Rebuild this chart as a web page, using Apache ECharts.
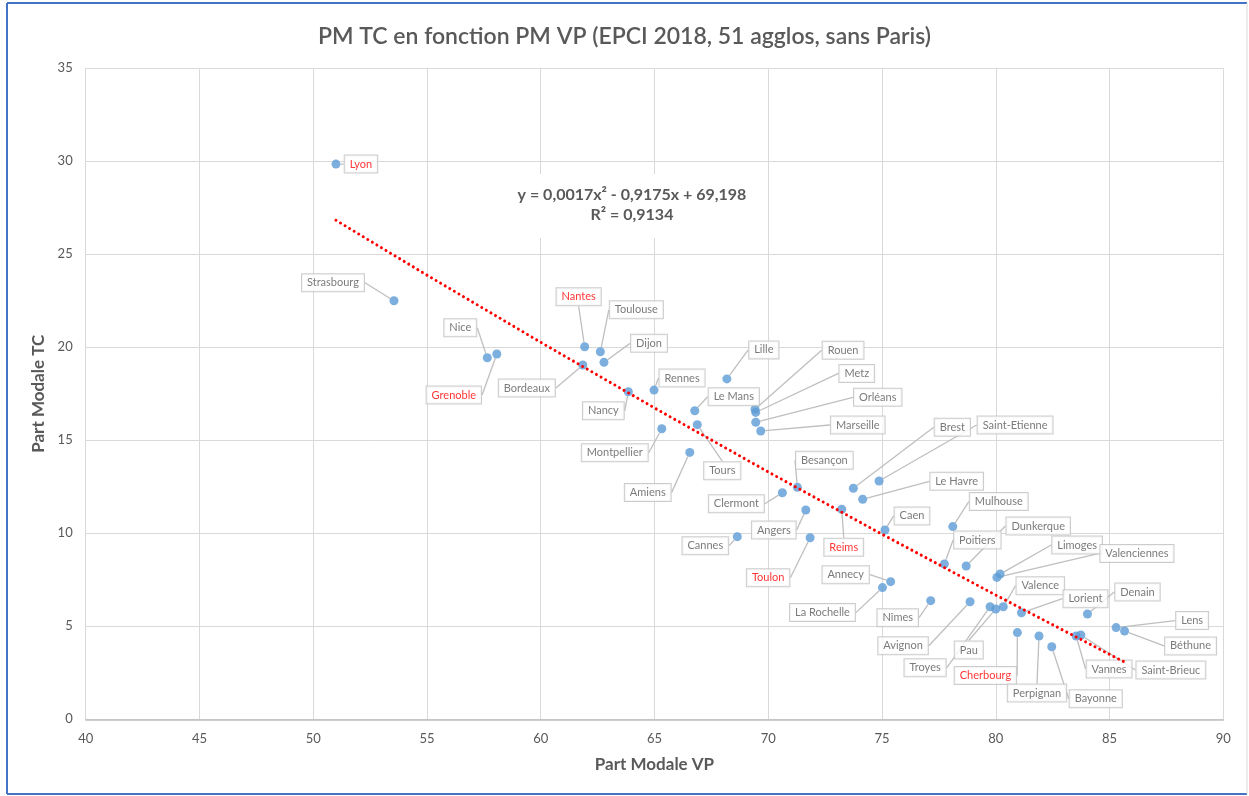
<!DOCTYPE html>
<html>
<head>
<meta charset="utf-8">
<title>PM TC en fonction PM VP</title>
<script src="https://cdn.jsdelivr.net/npm/echarts@6/dist/echarts.min.js"></script>
<style>
  html, body { margin: 0; padding: 0; background: #fff; }
  #chart { width: 1249px; height: 796px; }
</style>
</head>
<body>
<div id="chart"></div>
<script>
// agglos (EPCI 2018) : part modale VP (x) et TC (y)
const cities = [
  'Lyon', 'Strasbourg', 'Nice', 'Grenoble', 'Nantes', 'Toulouse', 'Dijon', 'Bordeaux', 'Nancy', 'Rennes',
  'Lille', 'Le Mans', 'Tours', 'Montpellier', 'Amiens', 'Rouen', 'Metz', 'Orléans', 'Marseille',
  'Besançon', 'Clermont', 'Brest', 'Saint-Etienne', 'Le Havre', 'Reims', 'Caen', 'Mulhouse', 'Poitiers', 'Dunkerque',
  'Limoges', 'Valenciennes', 'Angers', 'Cannes', 'Toulon', 'Annecy', 'La Rochelle', 'Nîmes', 'Avignon', 'Troyes',
  'Pau', 'Valence', 'Lorient', 'Denain', 'Lens', 'Béthune', 'Vannes', 'Saint-Brieuc', 'Cherbourg', 'Perpignan',
  'Bayonne'
]
const vpShare = [
  51.0, 53.55, 57.65, 58.07, 61.93, 62.62, 62.78, 61.85, 63.85, 64.98,
  68.18, 66.77, 66.88, 65.32, 66.55, 69.42, 69.45, 69.45, 69.67,
  71.28, 70.62, 73.74, 74.87, 74.15, 73.23, 75.13, 78.11, 77.74, 78.70,
  80.19, 80.05, 71.65, 68.64, 71.84, 75.38, 75.02, 77.14, 78.87, 79.75,
  80.0, 80.33, 81.13, 84.03, 85.29, 85.66, 83.53, 83.74, 80.95, 81.9,
  82.46
]
const tcShare = [
  29.85, 22.5, 19.44, 19.64, 20.03, 19.76, 19.19, 19.05, 17.61, 17.70,
  18.30, 16.59, 15.84, 15.62, 14.35, 16.67, 16.50, 15.97, 15.50,
  12.47, 12.18, 12.42, 12.81, 11.83, 11.29, 10.18, 10.36, 8.35, 8.24,
  7.81, 7.63, 11.25, 9.82, 9.76, 7.40, 7.08, 6.38, 6.32, 6.05,
  5.93, 6.05, 5.73, 5.66, 4.93, 4.75, 4.48, 4.53, 4.66, 4.48,
  3.90
]
const redCities = ['Lyon', 'Nantes', 'Grenoble', 'Reims', 'Toulon', 'Cherbourg']

// courbe de tendance polynomiale
const trendX = [51, 55, 60, 65, 70, 75, 80, 85, 85.66]
const trendY = [26.83, 23.88, 20.27, 16.74, 13.30, 9.95, 6.68, 3.49, 3.08]

const xTicks = { min: 40, max: 90, step: 5 }
const yTicks = { min: 0, max: 35, step: 5 }

// décalage des étiquettes (px) par rapport au point
const labelOffsets = [
  [25, 0], [-61, -18], [-27, -30], [-43, 41], [-6, -50], [36, -42], [45, -19], [-56, 23], [-25, 19], [28, -12],
  [37, -29], [39, -14], [25, 46], [-47, 24], [-42, 40], [88, -59], [101, -39], [122, -25], [97, -6],
  [27, -27], [-46, 11], [99, -61], [136, -56], [94, -18], [2, 38], [27, -14], [46, -25], [33, -24], [72, -40],
  [77, -29], [140, -24], [-32, 20], [-32, 9], [-42, 40], [-45, -7], [-60, 25], [-33, 17], [-67, 44], [-65, 61],
  [-27, 41], [37, -21], [64, -14], [50, -22], [76, -7], [66, 15], [33, 33], [90, 35], [-32, 43], [-2, 57],
  [44, 52]
]

const grey = '#595959'

const chart = echarts.init(document.getElementById('chart'))

const points = cities.map((name, i) => ({
  name,
  value: [vpShare[i], tcShare[i]],
  label: { color: redCities.includes(name) ? '#ff0000' : grey },
}))

chart.setOption({
  backgroundColor: '#fff',
  animation: false,
  textStyle: { fontFamily: 'Lato' },
  title: {
    text: 'PM TC en fonction PM VP (EPCI 2018, 51 agglos, sans Paris)',
    left: 'center',
    top: 20,
    textStyle: { color: grey, fontSize: 23, fontWeight: 600, fontFamily: 'Lato' },
  },
  grid: { left: 85.7, right: 25.7, top: 68.3, bottom: 76.7 },
  xAxis: {
    type: 'value',
    min: xTicks.min,
    max: xTicks.max,
    interval: xTicks.step,
    name: 'Part Modale VP',
    nameLocation: 'middle',
    nameGap: 37,
    nameTextStyle: { color: grey, fontSize: 17, fontWeight: 'bold' },
    axisLine: { show: true, lineStyle: { color: '#bfbfbf', width: 1.5 } },
    axisTick: { show: false },
    axisLabel: { color: grey, fontSize: 13, margin: 13 },
    splitLine: { show: true, lineStyle: { color: '#d9d9d9' } },
  },
  yAxis: {
    type: 'value',
    min: yTicks.min,
    max: yTicks.max,
    interval: yTicks.step,
    name: 'Part Modale TC',
    nameLocation: 'middle',
    nameGap: 37,
    nameTextStyle: { color: grey, fontSize: 17, fontWeight: 'bold' },
    axisLine: { show: true, lineStyle: { color: '#d9d9d9' } },
    axisTick: { show: false },
    axisLabel: { color: grey, fontSize: 13, margin: 13 },
    splitLine: { show: true, lineStyle: { color: '#d9d9d9' } },
  },
  series: [
    {
      type: 'scatter',
      data: points,
      symbolSize: 9,
      itemStyle: { color: '#5b9bd5' },
      z: 2,
      label: {
        show: true,
        position: 'inside',
        formatter: '{b}',
        fontSize: 11,
        color: grey,
        backgroundColor: '#fff',
        borderColor: '#bfbfbf',
        borderWidth: 1,
        padding: [3, 5, 3, 5],
      },
      labelLine: { show: true, lineStyle: { color: '#bfbfbf', width: 1.3 } },
      labelLayout: (params) => {
        const o = labelOffsets[params.dataIndex] || [0, 0]
        return { dx: o[0], dy: o[1] }
      },
    },
    {
      type: 'line',
      data: trendX.map((x, i) => [x, trendY[i]]),
      symbol: 'none',
      silent: true,
      z: 3,
      lineStyle: { color: '#ff0000', width: 3, type: [0.01, 5.3], cap: 'round' },
    },
  ],
  graphic: [
    {
      type: 'rect',
      shape: { x: 503, y: 174, width: 260, height: 64 },
      style: { fill: '#fff' },
      z: 9,
    },
    {
      type: 'text',
      x: 632,
      y: 195,
      z: 10,
      style: {
        text: 'y = 0,0017x² - 0,9175x + 69,198',
        textAlign: 'center',
        textVerticalAlign: 'middle',
        fill: grey,
        font: 'bold 16px Lato',
      },
    },
    {
      type: 'text',
      x: 632,
      y: 215,
      z: 10,
      style: {
        text: 'R² = 0,9134',
        textAlign: 'center',
        textVerticalAlign: 'middle',
        fill: grey,
        font: 'bold 16px Lato',
      },
    },
    { type: 'line', shape: { x1: 7, y1: 3, x2: 1247, y2: 3 }, style: { stroke: '#4472c4', lineWidth: 2 } },
    { type: 'line', shape: { x1: 7, y1: 3, x2: 7, y2: 794 }, style: { stroke: '#4472c4', lineWidth: 2 } },
    { type: 'line', shape: { x1: 7, y1: 794, x2: 1247, y2: 794 }, style: { stroke: '#4472c4', lineWidth: 2 } },
    { type: 'line', shape: { x1: 1247, y1: 3, x2: 1247, y2: 794 }, style: { stroke: '#d9d9d9', lineWidth: 1 } },
  ],
})
</script>
</body>
</html>
